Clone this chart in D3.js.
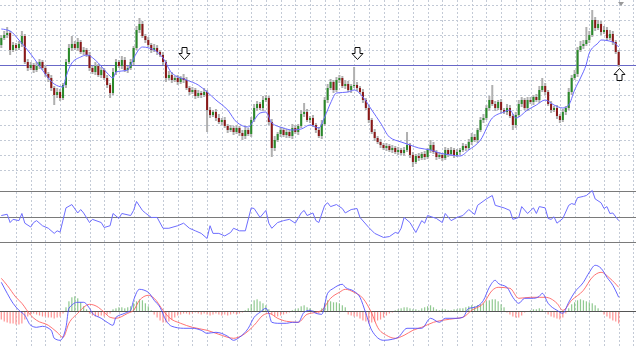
<!DOCTYPE html>
<html>
<head>
<meta charset="utf-8">
<script src="https://cdn.jsdelivr.net/npm/d3@7"></script>
<style>
  body { margin: 0; background: #fff; }
  svg { display: block; }
</style>
</head>
<body>
<svg id="chart" width="636" height="346"></svg>
<script>
// price closes (bar 0 .. 210), open = previous close
var open0 = 155;
var closes = [
  162,165,167,150,155,152,156,164,138,132,
  135,130,134,138,132,126,122,112,105,108,
  102,115,138,152,156,152,158,148,150,145,
  132,128,134,125,130,122,115,107,128,138,
  134,140,130,132,138,152,170,176,164,160,
  155,150,152,148,145,138,122,125,120,122,
  118,122,120,112,108,110,104,107,105,108,
  90,85,88,82,78,80,74,70,72,68,
  72,67,64,70,66,80,92,96,92,100,
  102,78,52,60,66,70,65,68,64,72,
  68,74,86,88,80,82,75,70,64,76,
  100,112,118,110,120,122,114,116,110,114,
  115,112,108,100,92,80,68,62,58,55,
  52,54,50,52,48,50,47,50,55,45,
  38,44,42,46,43,50,55,48,43,45,
  42,50,46,50,45,48,50,54,52,58,
  63,60,70,80,82,92,100,96,92,98,
  90,88,92,84,75,85,96,100,92,100,
  98,103,100,110,114,108,96,90,92,84,
  80,88,92,108,122,126,150,154,156,160,
  165,180,172,176,168,170,162,166,158,148,
  135
];
var hiExt = [
  3,4,6,2,3,2,3,5,2,3, 3,2,4,3,2,3,2,3,2,4, 3,2,3,4,8,3,4,2,3,2,
  3,2,4,2,3,2,3,2,4,3, 2,4,3,2,3,2,4,6,3,2, 3,2,4,3,2,3,2,4,3,2,
  3,2,4,3,2,3,2,3,2,4, 2,3,2,3,4,2,3,2,3,2, 3,2,3,4,2,3,4,3,2,4,
  3,2,3,4,2,3,2,3,2,4, 3,2,4,9,3,2,3,2,3,4, 3,4,3,2,3,3,2,4,3,2,
  18,3,2,3,2,3,2,3,2,3, 2,3,2,3,2,3,2,3,13,2, 3,2,3,2,3,2,5,3,2,3,
  2,3,2,3,2,3,2,3,2,3, 4,3,2,3,4,3,4,15,3,2, 3,2,4,3,2,3,4,3,2,3,
  3,2,3,4,8,3,2,3,2,3, 2,3,2,4,3,4,3,5,4,13, 4,10,3,4,3,4,3,4,3,2,
  2
];
var loExt = [
  3,2,3,5,2,3,2,3,2,3, 2,3,2,3,2,3,4,3,10,3, 3,2,3,2,3,2,3,2,3,2,
  3,2,3,2,3,2,3,5,2,3, 2,3,2,3,2,3,2,3,2,3, 2,3,2,3,2,3,4,2,3,2,
  3,2,3,2,3,2,3,2,3,2, 22,3,2,3,2,3,2,3,2,3, 2,3,4,3,2,3,2,3,2,3,
  2,3,9,3,2,3,2,3,2,3, 2,3,2,3,2,3,2,3,2,3, 2,3,2,3,2,3,2,3,2,3,
  2,3,2,3,2,3,2,3,2,3, 2,3,2,3,2,3,2,3,2,3, 5,2,3,2,3,2,3,2,3,2,
  3,2,3,2,3,2,3,2,3,2, 3,2,3,2,3,2,3,2,3,2, 3,2,3,2,5,3,2,3,2,3,
  2,3,2,3,2,3,2,3,2,3, 3,2,3,2,3,2,3,2,3,2, 3,2,3,2,3,2,3,2,3,2,
  2
];
// moving average [bar, price]
var maPts = [
  [0,171],[3,169],[6,160],[10,146],[13,134],[16,122],[18,116],[21,113],[22,123],[24,137],
  [27,143],[29,145],[33,137],[36,127],[38,122],[39,128],[43,130],[44,135],[46,147],[48,153],
  [52,150],[55,142],[58,127],[63,120],[67,115],[70,108],[73,100],[77,90],[80,78],[84,73],
  [86,80],[88,87],[90,88],[92,77],[96,72],[99,70],[102,71],[105,75],[108,72],[110,83],
  [112,97],[114,107],[118,108],[120,110],[123,103],[126,90],[129,77],[132,63],[136,58],[139,55],
  [142,52],[146,50],[149,47],[153,45],[156,44],[159,50],[163,60],[167,82],[171,88],[173,90],
  [175,82],[179,90],[182,95],[185,100],[188,95],[191,92],[193,95],[195,110],[197,122],[199,136],
  [200,147],[203,157],[204,160],[208,158],[210,153]
];
var levelPrice = 135;
var gridPrices = [195,180,165,150,135,120,105,90,75,60,45,30];
var signalBars = [62, 121, 210];
var signalDir = ["down", "down", "up"];
var signalPrice = [141, 141, 132];

// RSI [bar, value], levels
var rsiLevels = [30, 50, 70];
var rsiPts = [
  [0,51],[2,52],[3,45.5],[4,48],[6,47],[7,52.6],[8,45],[10,42],[11,45.5],[12,47],
  [14,43],[16,41],[18,37],[19,39],[20,38],[22,57],[24,59.6],[26,53],[27,55.7],[28,53],
  [30,45.5],[31,48],[34,45.5],[35,41.6],[37,43],[38,52.6],[40,48.7],[41,52.6],[44,51],[45,55],
  [46,62],[48,55],[49,53],[51,49.5],[53,49.5],[55,41],[57,41],[60,43],[62,45],[64,41],
  [66,39],[68,37],[70,33],[71,43],[72,37],[74,37],[76,35],[78,37.7],[79,41],[81,39],
  [83,39],[85,57],[86,56.5],[88,49.5],[90,55],[91,45],[92,41],[94,45.5],[96,47],[98,48],
  [100,45],[102,53],[103,55],[104,51],[106,53],[107,47],[108,45.5],[110,59],[111,61],[112,58],
  [114,59.6],[116,56.5],[117,53],[119,55.7],[121,56.5],[122,49.5],[125,41.6],[127,37],[130,33.8],[132,34.5],
  [134,37.7],[135,37],[136,41],[137,49.5],[139,45.5],[141,37.7],[143,47],[144,45],[145,51],[148,48.7],
  [150,45.5],[151,52.6],[153,47],[155,49.5],[157,51],[159,55.7],[161,51.8],[162,59],[165,64],[167,66.7],
  [168,59],[171,57],[173,55],[174,48],[176,49.5],[177,58],[179,52.6],[181,57],[182,52.6],[183,58],
  [185,57],[186,48.7],[187,48],[188,50],[189,45],[191,48.7],[193,59],[194,60.4],[195,59.6],[196,65],
  [198,66],[199,66.7],[201,70.6],[202,64],[204,61],[205,56.5],[206,58],[207,52.6],[208,53],[210,47]
];

// MACD: main (blue), signal (red) [bar, value], histogram per bar
var macdMain = [
  [0,29],[2,18],[4,8],[6,1],[8,-4],[10,-14],[12,-16],[14,-15],[17,-19],[18,-27],
  [20,-29],[22,-16],[23,3],[26,9],[28,9],[30,3],[31,-2],[34,-7],[36,-11],[38,-14],
  [39,-6],[42,-2],[44,1],[45,11],[47,22],[50,19],[52,11],[54,4],[56,-9],[58,-15],
  [62,-17],[65,-17],[68,-19],[70,-22],[73,-21],[77,-25],[79,-29],[81,-26],[84,-17],[86,-6],
  [88,-1],[90,3],[91,-2],[92,-11],[94,-12],[97,-12],[99,-11],[101,-11],[103,-1],[105,1],
  [107,-2],[109,-3],[111,18],[113,23],[116,27],[117,24],[120,20],[122,14],[124,-2],[126,-19],
  [130,-29],[133,-28],[135,-26],[138,-17],[141,-17],[143,-17],[146,-7],[149,-11],[151,-7],[155,-7],
  [157,-6],[159,3],[161,4],[164,11],[166,24],[168,31],[169,28],[172,24],[174,14],[176,8],
  [178,13],[181,13],[183,15],[184,18],[186,8],[189,1],[191,-2],[193,9],[195,19],[198,29],
  [200,39],[202,46],[204,43],[206,34],[208,26],[210,14]
];
var macdSignal = [
  [0,33],[2,26],[5,14],[7,8],[10,-4],[12,-9],[16,-14],[19,-21],[21,-26],[23,-12],
  [26,-2],[28,4],[30,7],[33,4],[35,-1],[37,-6],[39,-7],[43,-2],[45,1],[47,11],
  [50,16],[52,13],[55,1],[57,-6],[61,-12],[65,-16],[70,-19],[74,-23],[79,-27],[82,-24],
  [86,-14],[89,-4],[91,-2],[94,-7],[97,-10],[101,-11],[104,-3],[107,-1],[109,1],[112,13],
  [115,19],[117,22],[120,19],[123,13],[126,-2],[128,-16],[131,-24],[134,-27],[137,-24],[140,-19],
  [143,-16],[147,-11],[150,-9],[155,-7],[157,-6],[160,1],[164,8],[167,21],[169,24],[173,23],
  [176,13],[180,14],[183,14],[185,14],[189,8],[191,1],[194,11],[198,21],[201,34],[204,39],
  [207,33],[210,24]
];
var macdHist = [
  -8,-10,-11,-12,-12,-13,-13,-12,-8,-5, -3,-2,-3,-4,-5,-5,-6,-6,-7,-6,
  -5,-2,4,10,14,15,13,9,5,2, -2,-4,-5,-5,-4,-5,-3,-2,2,3,
  4,4,3,4,5,8,10,12,11,8, 5,1,-3,-6,-9,-11,-11,-10,-8,-6,
  -4,-3,-2,-2,-3,-2,-1,-2,-3,-2, -3,-4,-3,-2,-3,-4,-3,-4,-3,-2,
  -3,-2,-1,1,3,7,11,12,10,8, 6,2,-3,-5,-5,-4,-3,-2,-1,1,
  2,3,5,6,4,3,1,-1,-2,3, 8,11,10,9,9,8,6,4,-3,-4,
  -5,-5,-7,-9,-10,-12,-11,-10,-9,-8, -6,-4,-2,-1,1,2,3,4,4,3,
  2,2,1,3,4,5,6,4,2,1, 2,2,1,1,2,2,3,3,4,5,
  6,5,6,7,8,10,11,12,12,10, 7,4,-1,-3,-5,-6,-6,-4,-1,0,
  1,2,2,3,2,0,-3,-5,-6,-7, -8,-6,-2,3,7,9,11,12,11,10,
  9,8,6,3,1,-3,-5,-7,-9,-10, -12
];

function drawChart() {
    var svg = d3.select("#chart");
    var pxX = +svg.attr("width");
    var pxY = +svg.attr("height");
    var nBars = closes.length;

    var scX = d3.scaleLinear().domain([0, nBars - 1]).range([1.3, 618.7]);
    var scP = d3.scaleLinear().domain([30, 195]).range([170, 5]);
    var scR = d3.scaleLinear().domain([30, 70]).range([242.3, 191.3]);
    var scM = d3.scaleLinear().domain([-30, 50]).range([341.3, 261.3]);

    var bars = closes.map(function(c, i) {
        var o = i == 0 ? open0 : closes[i - 1];
        return {i: i, o: o, c: c,
                h: Math.max(o, c) + hiExt[i],
                l: Math.min(o, c) - loExt[i]};
    });

    // grid
    var grid = svg.append("g").attr("stroke", "#c3cad6").attr("stroke-dasharray", "2,2");
    grid.selectAll("line.v")
        .data(d3.range(5, nBars + 6, 5)).enter().append("line")
        .attr("x1", d => Math.round(scX(d)) + 0.5).attr("x2", d => Math.round(scX(d)) + 0.5)
        .attr("y1", 0).attr("y2", pxY);
    grid.selectAll("line.h")
        .data(gridPrices).enter().append("line")
        .attr("x1", 0).attr("x2", pxX)
        .attr("y1", d => Math.round(scP(d)) + 0.5).attr("y2", d => Math.round(scP(d)) + 0.5);

    // horizontal level
    svg.append("line")
        .attr("x1", 0).attr("x2", pxX)
        .attr("y1", Math.round(scP(levelPrice)) + 0.5).attr("y2", Math.round(scP(levelPrice)) + 0.5)
        .attr("stroke", "#6868c8").attr("stroke-width", 1);

    // candles
    var candles = svg.append("g");
    candles.selectAll("rect.wick")
        .data(bars).enter().append("rect")
        .attr("x", d => scX(d.i) - 1)
        .attr("width", 2)
        .attr("y", d => scP(d.h))
        .attr("height", d => scP(d.l) - scP(d.h))
        .attr("fill", "#b0b0b0");
    candles.selectAll("rect.body")
        .data(bars).enter().append("rect")
        .attr("x", d => scX(d.i) - 1)
        .attr("width", 2)
        .attr("y", d => scP(Math.max(d.o, d.c)))
        .attr("height", d => Math.max(1, Math.abs(scP(d.o) - scP(d.c))))
        .attr("fill", d => d.c >= d.o ? "#2a8a2a" : "#8a1818");

    // moving average
    var maLine = d3.line().x(d => scX(d[0])).y(d => scP(d[1])).curve(d3.curveMonotoneX);
    svg.append("path")
        .attr("fill", "none").attr("stroke", "#6a6aff").attr("stroke-width", 1)
        .attr("d", maLine(maPts));

    // signal arrows
    var arrows = svg.append("g");
    signalBars.forEach(function(b, k) {
        var cx = Math.round(scX(b)) + 0.5;
        var ty = Math.round(scP(signalPrice[k])) + 0.5;
        var s = signalDir[k] == "down" ? -1 : 1;
        var p = [[cx - 2.5, ty + s * 12], [cx + 2.5, ty + s * 12], [cx + 2.5, ty + s * 6],
                 [cx + 5.5, ty + s * 6], [cx, ty], [cx - 5.5, ty + s * 6], [cx - 2.5, ty + s * 6]];
        arrows.append("path")
            .attr("d", "M" + p.join("L") + "Z")
            .attr("fill", "#fff").attr("stroke", "#111").attr("stroke-width", 1);
    });

    // chart shift marker
    svg.append("path")
        .attr("d", "M618,2L624,2L621,6Z")
        .attr("fill", "#9a9a9a");

    // RSI
    svg.append("g").selectAll("line")
        .data(rsiLevels).enter().append("line")
        .attr("x1", 0).attr("x2", pxX)
        .attr("y1", d => Math.round(scR(d)) + 0.5).attr("y2", d => Math.round(scR(d)) + 0.5)
        .attr("stroke", "#7a7a7a").attr("stroke-width", 1);
    var rsiLine = d3.line().x(d => scX(d[0])).y(d => scR(d[1]));
    svg.append("path")
        .attr("fill", "none").attr("stroke", "#6e6eff").attr("stroke-width", 1)
        .attr("d", rsiLine(rsiPts));

    // MACD
    var zeroY = Math.round(scM(0)) + 0.5;
    svg.append("g").selectAll("rect")
        .data(macdHist).enter().append("rect")
        .attr("x", (d, i) => scX(i) - 0.6)
        .attr("width", 1.2)
        .attr("y", d => d >= 0 ? scM(d) : zeroY)
        .attr("height", d => Math.abs(scM(d) - scM(0)))
        .attr("fill", d => d >= 0 ? "#7cbf7c" : "#ff7f7f")
        .attr("opacity", 0.85);
    svg.append("line")
        .attr("x1", 0).attr("x2", pxX)
        .attr("y1", zeroY).attr("y2", zeroY)
        .attr("stroke", "#555").attr("stroke-width", 1);
    var macdLine = d3.line().x(d => scX(d[0])).y(d => scM(d[1])).curve(d3.curveMonotoneX);
    svg.append("path")
        .attr("fill", "none").attr("stroke", "#ff5a5a").attr("stroke-width", 1).attr("opacity", 0.85)
        .attr("d", macdLine(macdSignal));
    svg.append("path")
        .attr("fill", "none").attr("stroke", "#4a4aff").attr("stroke-width", 1).attr("opacity", 0.85)
        .attr("d", macdLine(macdMain));
}

drawChart();
</script>
</body>
</html>
